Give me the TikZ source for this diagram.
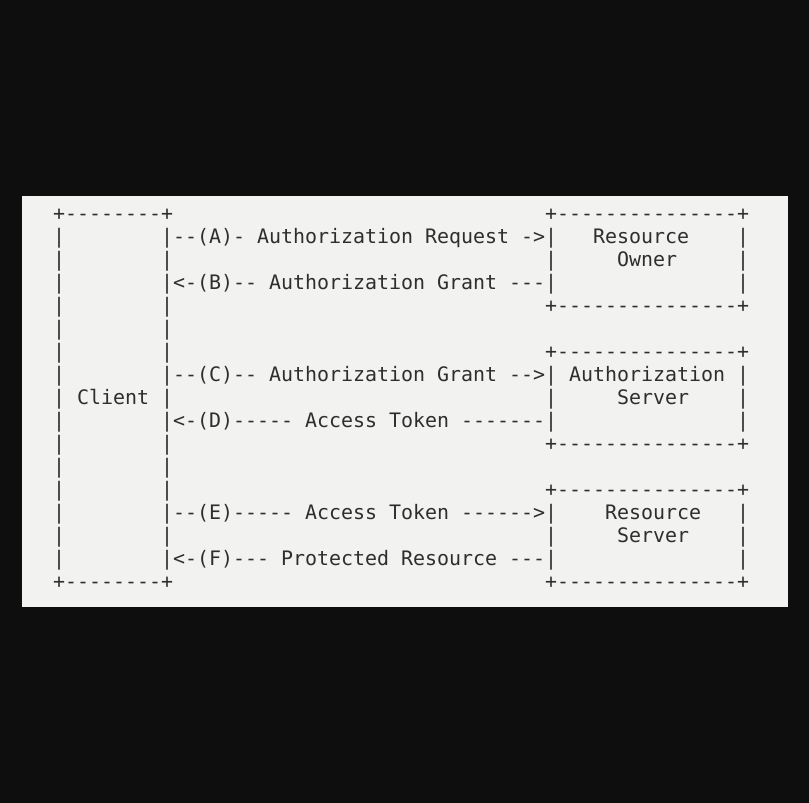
\documentclass[tikz,border=0pt]{standalone}
\usepackage{fontspec}
\setmonofont{DejaVu Sans Mono}
\definecolor{panel}{HTML}{F2F2F0}
\definecolor{ink}{HTML}{2E2E2E}
\definecolor{night}{HTML}{0E0E0E}
\begin{document}
\begin{tikzpicture}[x=1pt, y=-1pt, every node/.style={anchor=base west, inner sep=0pt, text=ink, font=\ttfamily\fontsize{19.93}{23}\selectfont}]
	\fill[night] (0,0) rectangle (809,803);
	\fill[panel] (22,196) rectangle (788.3,606.7);
	\useasboundingbox (0,0) rectangle (809,803);
	% one unit = one character cell
	\begin{scope}[shift={(53,220.3)}, x=12pt, y=-23pt]
		% client box
		\node (client-top) at (0,0) {+--------+};
		\node (client-bot) at (0,16) {+--------+};
		\foreach \r in {1,...,15}{
			\node (client-l\r) at (0,\r) {|};
			\node (client-r\r) at (9,\r) {|};
		}
		\node (client) at (2,8) {Client};
		% server boxes
		\foreach \b/\t in {owner/0, authsrv/6, ressrv/12}{
			\node (\b-top) at (41,\t) {+---------------+};
			\node (\b-bot) at (41,\t+4) {+---------------+};
			\foreach \i in {1,2,3}{
				\node (\b-l\i) at (41,\t+\i) {|};
				\node (\b-r\i) at (57,\t+\i) {|};
			}
		}
		\node (owner) at (45,1) {Resource};
		\node (owner2) at (47,2) {Owner};
		\node (authsrv) at (43,7) {Authorization};
		\node (authsrv2) at (47,8) {Server};
		\node (ressrv) at (46,13) {Resource};
		\node (ressrv2) at (47,14) {Server};
		% messages
		\node (msgA) at (10,1) {--(A)- Authorization Request ->};
		\node (msgB) at (10,3) {<-(B)-- Authorization Grant ---};
		\node (msgC) at (10,7) {--(C)-- Authorization Grant -->};
		\node (msgD) at (10,9) {<-(D)----- Access Token -------};
		\node (msgE) at (10,13) {--(E)----- Access Token ------>};
		\node (msgF) at (10,15) {<-(F)--- Protected Resource ---};
	\end{scope}
\end{tikzpicture}
\end{document}
